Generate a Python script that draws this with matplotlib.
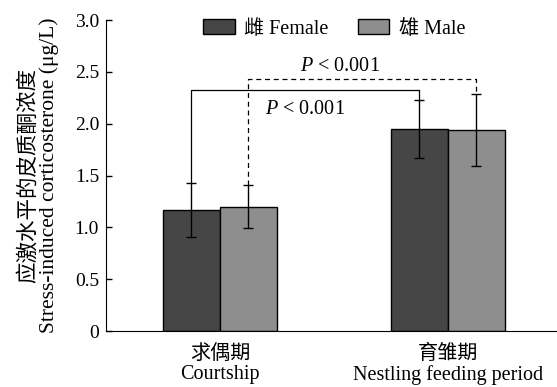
import numpy as np
import matplotlib.pyplot as plt

plt.rcParams['font.family'] = ['Liberation Serif', 'Noto Sans CJK SC']
plt.rcParams['mathtext.fontset'] = 'custom'
plt.rcParams['mathtext.it'] = 'Liberation Serif:italic'

groups_cn = ['求偶期', '育雏期']
groups_en = ['Courtship', 'Nestling feeding period']
female_mean = [1.17, 1.945]
female_err = [0.26, 0.28]
male_mean = [1.20, 1.94]
male_err = [0.21, 0.35]
series_labels = ['雌 Female', '雄 Male']
yticks = [0, 0.5, 1.0, 1.5, 2.0, 2.5, 3.0]
ytick_labels = ['0', '0.5', '1.0', '1.5', '2.0', '2.5', '3.0']

fig = plt.figure(figsize=(5.57, 3.87), dpi=100)
ax = fig.add_axes([0.1903, 0.1447, 0.8097, 0.8036])

x = np.arange(len(groups_cn))
w = 0.25
err_kw = dict(ecolor='black', elinewidth=1, capsize=3.5, capthick=1)
ax.bar(x - w / 2, female_mean, w, yerr=female_err, color='#464646',
       edgecolor='black', linewidth=1, label=series_labels[0], error_kw=err_kw)
ax.bar(x + w / 2, male_mean, w, yerr=male_err, color='#8e8e8e',
       edgecolor='black', linewidth=1, label=series_labels[1], error_kw=err_kw)

# significance brackets
f_top = [m + e for m, e in zip(female_mean, female_err)]
m_top = [m + e for m, e in zip(male_mean, male_err)]
y1 = 2.32
ax.plot([x[0] - w / 2, x[0] - w / 2, x[1] - w / 2, x[1] - w / 2],
        [f_top[0], y1, y1, f_top[1]], color='black', lw=0.9)
y2 = 2.43
ax.plot([x[0] + w / 2, x[0] + w / 2, x[1] + w / 2, x[1] + w / 2],
        [m_top[0], y2, y2, m_top[1]], color='black', lw=0.9, ls=(0, (4, 3)))
ax.text(0.526, 2.55, '$P$ < 0.001', ha='center', va='center', fontsize=14.5)
ax.text(0.375, 2.14, '$P$ < 0.001', ha='center', va='center', fontsize=14.5)

ax.set_xlim(-0.5, 1.48)
ax.set_ylim(0, 3.0)
ax.set_yticks(yticks)
ax.set_yticklabels(ytick_labels, fontsize=14)
ax.set_xticks(x)
ax.set_xticklabels([c + '\n' + e for c, e in zip(groups_cn, groups_en)],
                   fontsize=14.5, linespacing=1.1)
ax.tick_params(axis='x', length=0, pad=10)
ax.tick_params(axis='y', length=4.5, width=1, direction='in', pad=5)
ax.set_ylabel('应激水平的皮质酮浓度\nStress-induced corticosterone (μg/L)',
              fontsize=15.5, linespacing=1.0)
ax.yaxis.set_label_coords(-0.105, 0.5)
for s in ['top', 'right']:
    ax.spines[s].set_visible(False)

ax.legend(loc='center', bbox_to_anchor=(0.6, 0.925), bbox_transform=fig.transFigure,
          ncol=2, frameon=False, fontsize=14.5, handlelength=1.55, handleheight=0.7,
          columnspacing=1.5, handletextpad=0.45, borderpad=0)

fig.savefig('out.png', dpi=100)
